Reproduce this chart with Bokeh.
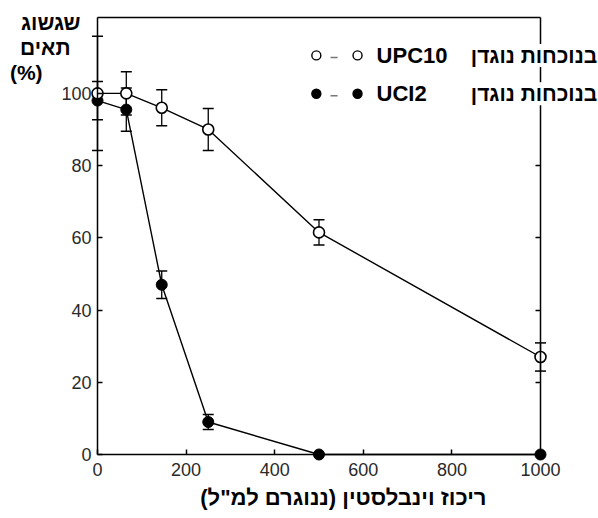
from bokeh.plotting import figure
from bokeh.models import ColumnDataSource, Whisker, TeeHead, Label, LinearAxis, FixedTicker
from bokeh.embed import file_html
from bokeh.resources import INLINE

# ---- data ----
conc_upc10 = [0, 65, 145, 250, 500, 1000]
surv_upc10 = [100, 100, 96, 90, 61.5, 27]
err_upc10 = [15.8, 6, 5, 5.8, 3.5, 3.9]

conc_uci2 = [0, 65, 145, 250, 500, 1000]
surv_uci2 = [98, 95.5, 47, 9, 0, 0]
err_uci2 = [5.3, 6, 3.8, 2.1, 0, 0]

x_ticks = [0, 200, 400, 600, 800, 1000]
y_ticks = [0, 20, 40, 60, 80, 100]
x_lim = (0, 1000)
y_lim = (0, 121)

x_title = 'ריכוז וינבלסטין (ננוגרם למ"ל)\u200f'
y_title_lines = ["שגשוג", "תאים", "(%)"]
legend_names = ["UPC10", "UCI2"]
legend_hebrew = ["בנוכחות נוגדן", "בנוכחות נוגדן"]

FONT = "Liberation Sans"

# ---- layout: the frame covers the whole canvas; axes are pinned at the data limits ----
W, H = 598, 518
px_x0, px_x1 = 97.0, 540.0      # pixel columns of x = 0 and x = 1000
px_y0, px_y1 = 454.0, 17.0      # pixel rows of y = 0 and y = 121
sx = (px_x1 - px_x0) / (x_lim[1] - x_lim[0])
sy = (px_y0 - px_y1) / (y_lim[1] - y_lim[0])
xr = (x_lim[0] - px_x0 / sx, x_lim[1] + (W - px_x1) / sx)
yr = (y_lim[0] - (H - px_y0) / sy, y_lim[1] + px_y1 / sy)

p = figure(width=W, height=H, x_range=xr, y_range=yr,
           output_backend="svg", toolbar_location=None,
           x_axis_location=None, y_axis_location=None,
           min_border_left=0, min_border_right=0, min_border_top=0, min_border_bottom=0)
p.xgrid.visible = False
p.ygrid.visible = False
p.outline_line_color = None
p.background_fill_color = "white"
p.border_fill_color = "white"


def style(ax):
    ax.major_tick_in = 5
    ax.major_tick_out = 0
    ax.minor_tick_in = 0
    ax.minor_tick_out = 0
    ax.axis_line_width = 1.5
    ax.axis_line_color = "black"
    ax.major_tick_line_width = 1.5
    ax.major_label_text_font = FONT
    ax.major_label_text_font_size = "18px"
    ax.major_label_text_color = "#2a2a2a"


bottom = LinearAxis(fixed_location=y_lim[0], bounds=x_lim, ticker=FixedTicker(ticks=x_ticks), major_label_standoff=8)
style(bottom)
p.add_layout(bottom, "below")

left = LinearAxis(fixed_location=x_lim[0], bounds=y_lim, ticker=FixedTicker(ticks=y_ticks), major_label_standoff=6)
style(left)
p.add_layout(left, "left")

right = LinearAxis(fixed_location=x_lim[1], bounds=y_lim, ticker=FixedTicker(ticks=y_ticks),
                   major_label_overrides={t: "" for t in y_ticks})
style(right)
p.add_layout(right, "right")

top = LinearAxis(fixed_location=y_lim[1], bounds=x_lim, ticker=FixedTicker(ticks=[]))
style(top)
p.add_layout(top, "above")

# ---- UCI2 (filled) ----
src_b = ColumnDataSource(dict(x=conc_uci2, y=surv_uci2))
p.line("x", "y", source=src_b, line_color="black", line_width=1.4)
eb = [(x, y, e) for x, y, e in zip(conc_uci2, surv_uci2, err_uci2) if e > 0]
src_be = ColumnDataSource(dict(x=[a[0] for a in eb], lo=[a[1] - a[2] for a in eb], hi=[a[1] + a[2] for a in eb]))
p.add_layout(Whisker(base="x", lower="lo", upper="hi", source=src_be, line_color="black", line_width=1.3,
                     upper_head=TeeHead(size=11, line_width=1.5), lower_head=TeeHead(size=11, line_width=1.5)))
p.scatter("x", "y", source=src_b, size=11, fill_color="black", line_color="black")

# ---- UPC10 (open) ----
src_o = ColumnDataSource(dict(x=conc_upc10, y=surv_upc10,
                              lo=[y - e for y, e in zip(surv_upc10, err_upc10)],
                              hi=[y + e for y, e in zip(surv_upc10, err_upc10)]))
p.line("x", "y", source=src_o, line_color="black", line_width=1.4)
p.add_layout(Whisker(base="x", lower="lo", upper="hi", source=src_o, line_color="black", line_width=1.3,
                     upper_head=TeeHead(size=11, line_width=1.5), lower_head=TeeHead(size=11, line_width=1.5)))
p.scatter("x", "y", source=src_o, size=11, fill_color="white", line_color="black", line_width=1.6)

# ---- legend (upper right) ----
rows_y = [110.5, 99.9]
fills = ["white", "black"]
for ry, fc, name, heb in zip(rows_y, fills, legend_names, legend_hebrew):
    p.scatter([494, 587], [ry, ry], size=9, fill_color=fc, line_color="black", line_width=1.4)
    p.segment([526], [ry - 0.6], [542], [ry - 0.6], line_color="#777777", line_width=1.5)
    p.add_layout(Label(x=630, y=ry, text=name, text_align="left", text_baseline="middle",
                       text_font=FONT, text_font_style="bold", text_font_size="22px", text_color="black"))
    p.add_layout(Label(x=1128, y=ry, text=heb, text_align="right", text_baseline="middle",
                       text_font=FONT, text_font_style="bold", text_font_size="21px", text_color="black",
                       background_fill_color="white"))

# ---- y title (top left, three lines) ----
for tx, ty, t in zip([-38.4, -61, -124], [119.7, 112.7, 105.8], y_title_lines):
    p.add_layout(Label(x=tx, y=ty, text=t, text_align="right", text_baseline="middle",
                       text_font=FONT, text_font_style="bold", text_font_size="21px", text_color="black"))

# ---- x title ----
p.add_layout(Label(x=555, y=-11.9, text=x_title, text_align="center", text_baseline="middle",
                   text_font=FONT, text_font_style="bold", text_font_size="22px", text_color="black"))

open("out.html", "w").write(file_html(p, INLINE))
